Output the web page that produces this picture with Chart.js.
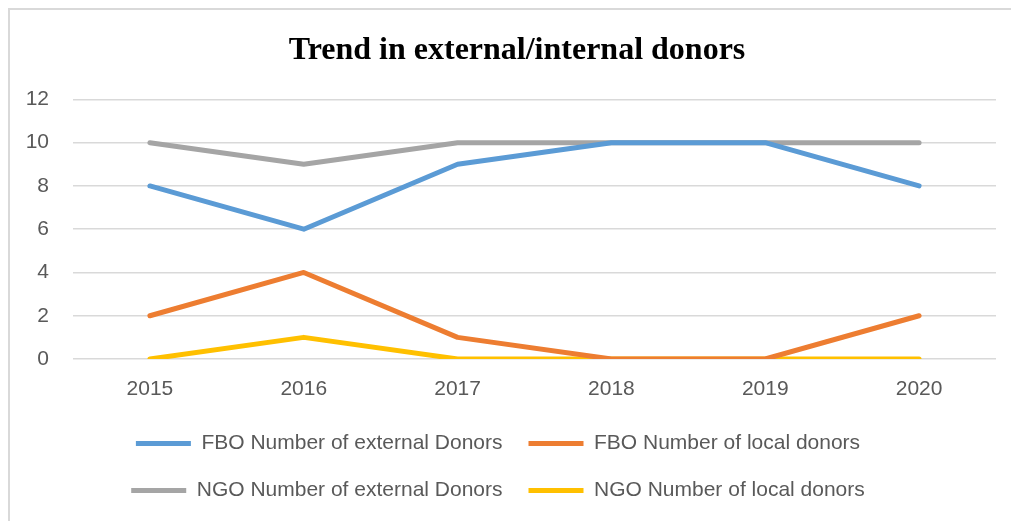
<!DOCTYPE html>
<html>
<head>
<meta charset="utf-8">
<script src="https://cdn.jsdelivr.net/npm/chart.js@4"></script>
<style>
  html, body { margin: 0; padding: 0; background: #fff; }
  #wrap { position: relative; width: 1011px; height: 521px; overflow: hidden; }
  #frame { position: absolute; left: 8px; top: 8px; width: 1020px; height: 530px; border: 2px solid #d9d9d9; box-sizing: border-box; }
  canvas { position: absolute; left: 0; top: 0; }
</style>
</head>
<body>
<div id="wrap">
  <div id="frame"></div>
  <canvas id="donorChart" width="1011" height="521"></canvas>
</div>
<script>
// chart data
const years = ['2015', '2016', '2017', '2018', '2019', '2020'];
const fboExternal = [8, 6, 9, 10, 10, 8];
const fboLocal = [2, 4, 1, 0, 0, 2];
const ngoExternal = [10, 9, 10, 10, 10, 10];
const ngoLocal = [0, 1, 0, 0, 0, 0];
const yTicks = [0, 2, 4, 6, 8, 10, 12];

const labelFont = 'Liberation Sans, Arial, sans-serif';

function series(label, data, color) {
  return {
    label: label,
    data: data,
    borderColor: color,
    backgroundColor: color,
    borderWidth: 5,
    borderCapStyle: 'round',
    borderJoinStyle: 'round',
    pointRadius: 0,
    pointStyle: 'line',
    tension: 0,
    fill: false
  };
}

// title in the original sits a bit right of the canvas centre
const shiftTitle = {
  id: 'shiftTitle',
  afterLayout(chart) {
    if (chart.titleBlock) chart.titleBlock.left += 38;
  }
};

document.addEventListener('DOMContentLoaded', () => {
  const ctx = document.getElementById('donorChart');
  new Chart(ctx, {
    type: 'line',
    data: {
      labels: years,
      datasets: [
        series('FBO Number of external Donors', fboExternal, '#5b9bd5'),
        series('FBO Number of local donors', fboLocal, '#ed7d31'),
        series('NGO Number of external Donors', ngoExternal, '#a5a5a5'),
        series('NGO Number of local donors', ngoLocal, '#ffc000')
      ]
    },
    options: {
      responsive: false,
      animation: false,
      layout: { padding: { left: 0, right: 15, top: 0, bottom: 10 } },
      plugins: {
        title: {
          display: true,
          text: 'Trend in external/internal donors',
          color: '#000',
          font: { family: 'Liberation Serif, Times New Roman, serif', size: 32, weight: 'bold' },
          padding: { top: 32, bottom: 29 }
        },
        legend: {
          position: 'bottom',
          labels: {
            usePointStyle: true,
            pointStyleWidth: 55,
            color: '#595959',
            font: { family: labelFont, size: 21 },
            padding: 26
          }
        },
        tooltip: { enabled: false }
      },
      scales: {
        x: {
          offset: true,
          afterFit: s => { s.height = 48; },
          grid: { display: false, drawTicks: false },
          border: { display: false },
          ticks: { color: '#595959', font: { family: labelFont, size: 21 }, padding: 18 }
        },
        y: {
          min: 0,
          max: 12,
          afterFit: s => { s.width = 73; },
          afterBuildTicks: s => { s.ticks = yTicks.map(v => ({ value: v })); },
          grid: { color: '#d9d9d9', lineWidth: 1.5, drawTicks: false },
          border: { display: false },
          ticks: { color: '#595959', font: { family: labelFont, size: 21 }, padding: 24 }
        }
      }
    },
    plugins: [shiftTitle]
  });
});
</script>
</body>
</html>
